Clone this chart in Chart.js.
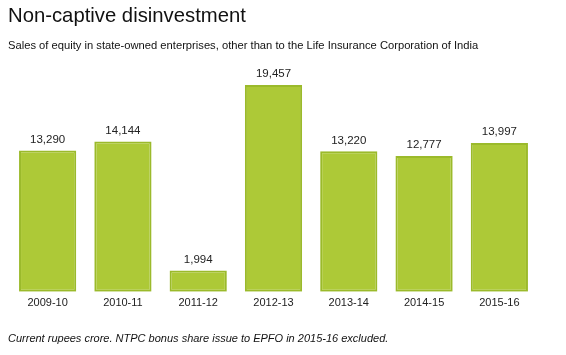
<!DOCTYPE html>
<html><head><meta charset="utf-8">
<script src="https://cdn.jsdelivr.net/npm/chart.js@4/dist/chart.umd.min.js"></script>
<style>
html,body{margin:0;padding:0;background:#fff;width:566px;height:355px;overflow:hidden;font-family:"Liberation Sans",Arial,sans-serif;}
#wrap{position:relative;width:566px;height:355px;}
canvas{position:absolute;left:0;top:0;}
.t{position:absolute;left:8px;white-space:nowrap;color:#111;}
#title{top:4px;font-size:20.3px;}
#sub{top:39px;font-size:11.2px;}
#foot{top:332px;font-size:11px;font-style:italic;}
</style></head><body>
<div id="wrap">
<canvas id="c" width="566" height="355"></canvas>
<div class="t" id="title">Non-captive disinvestment</div>
<div class="t" id="sub">Sales of equity in state-owned enterprises, other than to the Life Insurance Corporation of India</div>
<div class="t" id="foot">Current rupees crore. NTPC bonus share issue to EPFO in 2015-16 excluded.</div>
</div>
<script>
const categories = ["2009-10","2010-11","2011-12","2012-13","2013-14","2014-15","2015-16"];
const sales = [13290, 14144, 1994, 19457, 13220, 12777, 13997];

const labelPlugin = {
  id: 'barLabels',
  afterDatasetsDraw(chart) {
    const ctx = chart.ctx;
    const meta = chart.getDatasetMeta(0);
    ctx.save();
    ctx.font = '11.5px "Liberation Sans", Arial, sans-serif';
    ctx.fillStyle = '#222';
    ctx.textAlign = 'center';
    ctx.textBaseline = 'bottom';
    meta.data.forEach((bar, i) => {
      ctx.fillText(sales[i].toLocaleString('en-US'), bar.x, bar.y - 5);
    });
    ctx.restore();
  }
};

new Chart(document.getElementById('c'), {
  type: 'bar',
  data: {
    labels: categories,
    datasets: [{
      data: sales,
      backgroundColor: '#adc937',
      borderColor: '#9bba2b',
      borderWidth: 2,
      borderSkipped: false,
      barPercentage: 0.76,
      categoryPercentage: 1.0
    }]
  },
  options: {
    responsive: false,
    animation: false,
    layout: { padding: { left: 10, right: 29, top: 85, bottom: 40 } },
    plugins: { legend: { display: false }, tooltip: { enabled: false } },
    scales: {
      x: {
        grid: { display: false, drawTicks: false },
        border: { display: false },
        ticks: { color: '#222', font: { size: 11, family: '"Liberation Sans", Arial, sans-serif' }, padding: 5 }
      },
      y: { display: false, min: 0, max: 19457 }
    }
  },
  plugins: [labelPlugin]
});
</script>
</body></html>
